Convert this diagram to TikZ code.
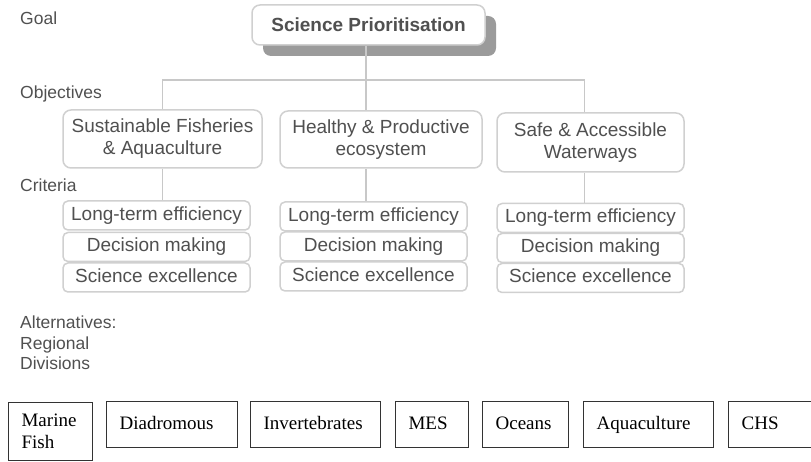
\documentclass[tikz,border=0pt]{standalone}
\usepackage{fontspec}
\setmainfont{Liberation Serif}
\setsansfont{Liberation Sans}
\usetikzlibrary{positioning, calc, shadows}
\definecolor{textgrey}{RGB}{80, 80, 80}
\definecolor{boxgrey}{RGB}{208, 208, 208}
\definecolor{linkgrey}{RGB}{200, 200, 200}
\definecolor{shadowgrey}{RGB}{155, 155, 155}

\tikzset{
    goalbox/.style={draw=boxgrey, line width=1.5pt, rounded corners=8pt, fill=white,
        text=textgrey, font=\sffamily\bfseries\fontsize{19}{22}\selectfont,
        minimum width=233pt, minimum height=40pt,
        drop shadow={shadow xshift=11pt, shadow yshift=-11pt, fill=shadowgrey, opacity=1}},
    objbox/.style={draw=boxgrey, line width=1.5pt, rounded corners=8pt, fill=white,
        text=textgrey, font=\sffamily\fontsize{19}{22}\selectfont, align=center},
    critbox/.style={draw=boxgrey, line width=1.5pt, rounded corners=5pt, fill=white,
        text=textgrey, font=\sffamily\fontsize{19}{22}\selectfont,
        minimum width=187pt, minimum height=29pt, inner sep=0pt,
        text height=13.5pt, text depth=4pt},
    levellabel/.style={anchor=west, inner sep=0pt, text=textgrey, align=left,
        font=\sffamily\fontsize{17.5}{20.5}\selectfont},
    altbox/.style={draw=black!80, line width=1.2pt, inner xsep=13pt, align=left,
        minimum height=46pt, anchor=north west, font=\fontsize{19}{22}\selectfont},
    altline/.style={altbox, text height=13pt, text depth=4pt},
    link/.style={draw=linkgrey, line width=1.5pt}
}

\begin{document}
\begin{tikzpicture}[x=1pt, y=-1pt]
    \clip (0,0) rectangle (811,462);

    % Level labels
    \node[levellabel] (lgoal) at (20,18) {Goal};
    \node[levellabel] (lobj) at (20,94) {Objectives};
    \node[levellabel] (lcrit) at (20,185) {Criteria};
    \node[levellabel] (lalt) at (20,343) {Alternatives:\\Regional\\Divisions};

    % Goal
    \node[goalbox] (sp) at (368.5,25) {Science Prioritisation};

    % Objectives
    \node[objbox, minimum width=199pt, minimum height=58pt] (o1) at (162.5,139) {Sustainable Fisheries\\\& Aquaculture};
    \node[objbox, minimum width=202pt, minimum height=57pt] (o2) at (381,139.5) {Healthy \& Productive\\ecosystem};
    \node[objbox, minimum width=187pt, minimum height=59pt] (o3) at (590.5,142.5) {Safe \& Accessible\\Waterways};

    % Connectors goal -> objectives
    \coordinate (bus) at (366,80);
    \draw[link] (bus |- sp.south) -- (bus);
    \draw[link] (o1.north) |- (bus) -| ($(o3.north)+(-6,0)$);
    \draw[link] (bus) -- (bus |- o2.north);

    % Criteria, Sustainable Fisheries
    \node[critbox] (c11) at (156.5,215.5) {Long-term efficiency};
    \node[critbox] (c12) at (156.5,247) {Decision making};
    \node[critbox] (c13) at (156.5,277.5) {Science excellence};

    % Criteria, Healthy ecosystem
    \node[critbox] (c21) at (373.5,216.5) {Long-term efficiency};
    \node[critbox] (c22) at (373.5,246.5) {Decision making};
    \node[critbox] (c23) at (373.5,276.5) {Science excellence};

    % Criteria, Safe waterways
    \node[critbox] (c31) at (590.5,218) {Long-term efficiency};
    \node[critbox] (c32) at (590.5,248) {Decision making};
    \node[critbox] (c33) at (590.5,278) {Science excellence};

    % Connectors objectives -> criteria
    \draw[link] (o1.south) -- (o1.south |- c11.north);
    \draw[link] (bus |- o2.south) -- (bus |- c21.north);
    \draw[link] ($(o3.south)+(-6,0)$) -- ($(o3.south |- c31.north)+(-6,0)$);

    % Alternatives
    \node[altbox, text width=58pt, minimum height=58pt] (mf) at (8,402) {Marine\\Fish};
    \node[altline, text width=105pt] (di) at (106,401) {Diadromous};
    \node[altline, text width=104pt] (iv) at (250,401) {Invertebrates};
    \node[altline, text width=47pt] (mes) at (395,401) {MES};
    \node[altline, text width=60pt] (oc) at (482,401) {Oceans};
    \node[altline, text width=104pt] (aq) at (583,401) {Aquaculture};
    \node[altline, text width=90pt] (chs) at (728,401) {CHS};
\end{tikzpicture}
\end{document}
